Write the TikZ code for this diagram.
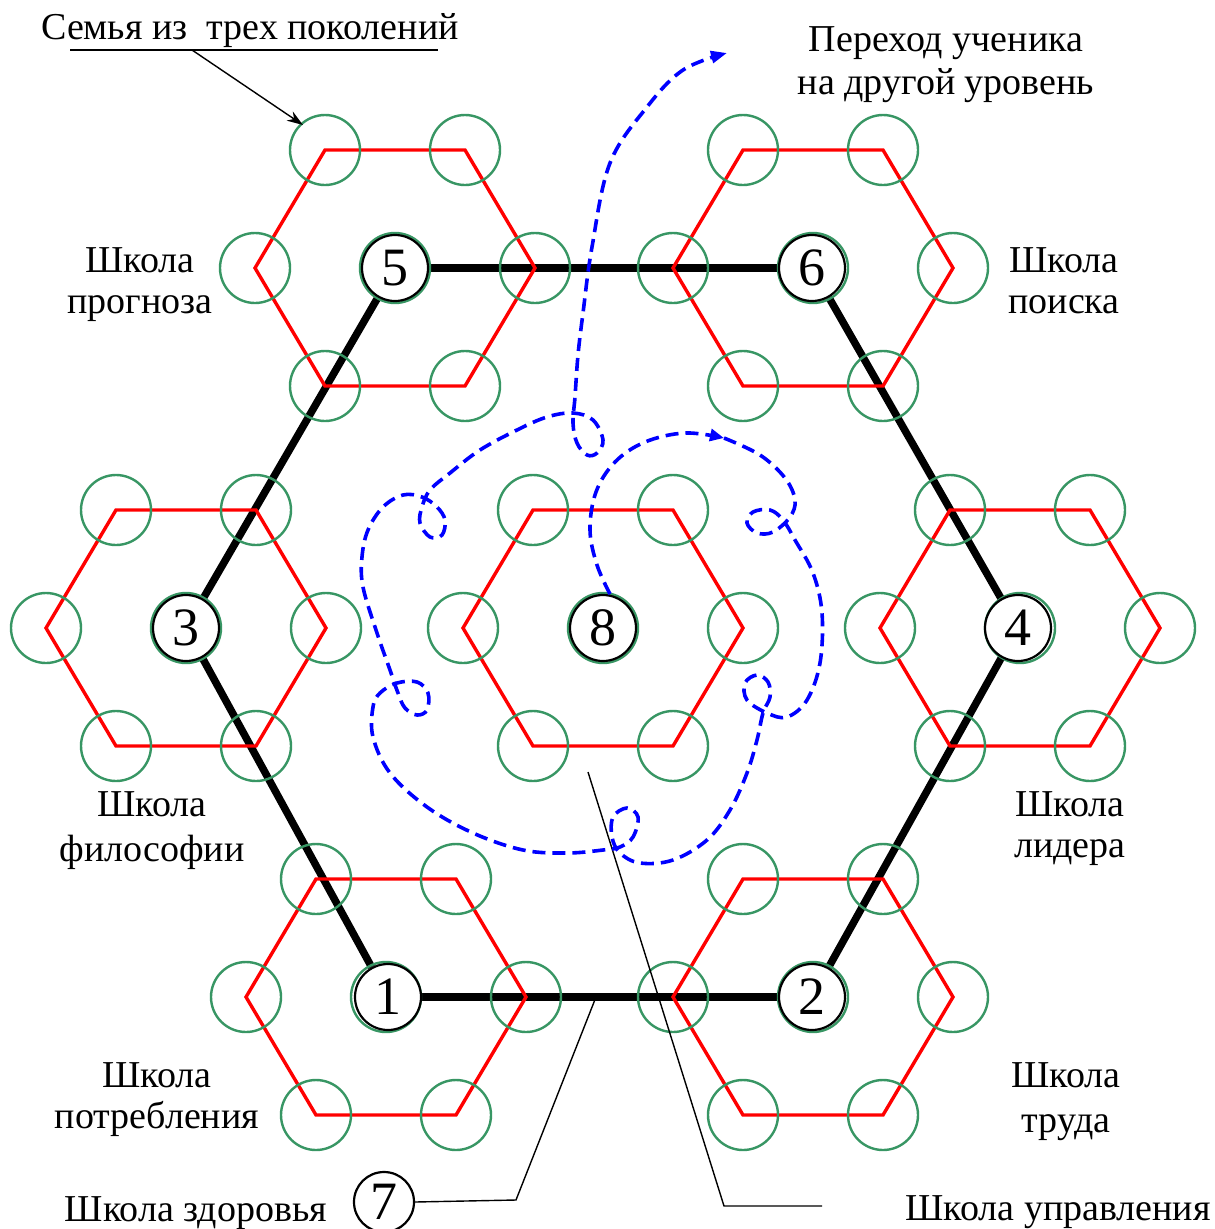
\documentclass[tikz,border=0pt]{standalone}
\usepackage{fontspec}
\setmainfont{Liberation Serif}
\usetikzlibrary{arrows.meta,backgrounds}
\definecolor{famgreen}{RGB}{56,150,100}
\definecolor{pathblue}{RGB}{0,0,255}
% one school: red hexagon with a family circle at each corner and in the middle
\def\schoolcell(#1){%
	\draw[cellline] (#1) ++(-140,0) -- ++(70,-118) -- ++(140,0) -- ++(70,118) -- ++(-70,118) -- ++(-140,0) -- cycle;
	\draw[family] (#1) circle (35pt) ++(-140,0) circle (35pt) ++(70,-118) circle (35pt) ++(140,0) circle (35pt) ++(70,118) circle (35pt) ++(-70,118) circle (35pt) ++(-140,0) circle (35pt);}

\begin{document}
\begin{tikzpicture}[x=1pt, y=-1pt,
	cellline/.style={red, line width=3.4pt},
	family/.style={famgreen, line width=2.4pt},
	ring/.style={black, line width=7.5pt},
	numbox/.style={circle, draw, line width=2.2pt, fill=white, minimum size=66pt, inner sep=0pt, font=\fontsize{54}{54}\selectfont},
	school/.style={align=center, anchor=base, font=\fontsize{38}{41}\selectfont},
	leader/.style={black, line width=1.4pt},
	pupil/.style={pathblue, line width=3.6pt, dash pattern=on 13pt off 7pt}]
	%%%%% START %%%%%
	\useasboundingbox (0,0) rectangle (1215,1229);
	
	\coordinate (h5) at (395,268);
	\coordinate (h6) at (813,268);
	\coordinate (h3) at (186,628);
	\coordinate (h8) at (603,628);
	\coordinate (h4) at (1020,628);
	\coordinate (h1) at (386,997);
	\coordinate (h2) at (813,997);
	
	\node[numbox] (n5) at (395,268) {5};
	\node[numbox] (n6) at (812,268) {6};
	\node[numbox] (n3) at (186,628) {3};
	\node[numbox] (n4) at (1018,628) {4};
	\node[numbox] (n1) at (388,997) {1};
	\node[numbox] (n2) at (812,997) {2};
	\node[numbox] (n8) at (603,628) {8};
	\node[numbox, minimum size=60pt] (n7) at (384,1202) {7};
	
	\begin{pgfonlayer}{background}
	% big black ring of schools
	\draw[ring] (n5) -- (n6);
	\draw[ring] (n6) -- (n4);
	\draw[ring] (n4) -- (n2);
	\draw[ring] (n2) -- (n1);
	\draw[ring] (n1) -- (n3);
	\draw[ring] (n3) -- (n5);
	
	\schoolcell(h5)
	\schoolcell(h6)
	\schoolcell(h3)
	\schoolcell(h8)
	\schoolcell(h4)
	\schoolcell(h1)
	\schoolcell(h2)
	\end{pgfonlayer}
	
	% school names
	\node[school] (sprog) at (140,313) {Школа\\прогноза};
	\node[school] (spoisk) at (1064,313) {Школа\\поиска};
	\node[school] (sfil) at (152,861) {Школа\\[4pt]философии};
	\node[school] (slid) at (1070,857) {Школа\\лидера};
	\node[school] (spotr) at (157,1128) {Школа\\потребления};
	\node[school] (strud) at (1066,1132) {Школа\\[4pt]труда};
	\node[school] (szdor) at (196,1221) {Школа здоровья};
	\node[school] (supr) at (1058,1220) {Школа управления};
	\node[school] (sfam) at (250,39) {Семья из\ \ трех поколений};
	\node[school] (spass) at (946,94) {Переход ученика\\[2pt]на другой уровень};
	
	% pointers
	\coordinate (famL) at (70,50);
	\coordinate (famR) at (438,50);
	\coordinate (famA) at (192,50);
	\draw[leader] (famL) -- (famR);
	\draw[leader, -{Stealth[length=16pt, width=11pt]}] (famA) -- (303,125);
	\coordinate (bend7) at (516,1200);
	\coordinate (tip7) at (596,997);
	\draw[leader] (n7.east) -- (bend7) -- (tip7);
	\coordinate (uprS) at (822,1206);
	\coordinate (uprB) at (724,1206);
	\coordinate (uprT) at (588,772);
	\draw[leader] (uprS) -- (uprB) -- (uprT);
	
	% path of the pupil
	\draw[pupil, -{Triangle[length=14pt, width=12pt]}] plot[smooth, tension=0.6] coordinates {(610,594) (597,565) (590,530) (596,492) (615,462) (645,442) (685,433) (724,438)};
	\draw[pupil, -{Triangle[length=16pt, width=12pt]}] plot[smooth, tension=0.6] coordinates {(724,438) (760,455) (785,478) (795,500) (790,517) (773,532) (757,533) (747,523) (753,512) (770,510) (783,520) (795,540) (813,573) (822,613) (820,663) (807,700) (787,717) (767,713) (747,700) (745,683) (757,675) (768,682) (770,697) (763,713) (757,740) (747,773) (730,810) (707,840) (673,860) (640,863) (620,853) (612,837) (613,817) (627,808) (638,817) (633,837) (620,847) (603,850) (567,853) (523,850) (473,833) (427,807) (390,773) (373,737) (373,707) (380,693) (397,683) (417,682) (428,693) (427,710) (417,715) (405,708) (398,693) (390,670) (377,633) (363,587) (362,557) (368,530) (383,507) (403,495) (422,497) (437,507) (445,520) (442,535) (430,537) (420,523) (422,507) (430,490) (450,473) (480,450) (517,430) (547,417) (573,413) (593,420) (603,440) (597,453) (587,455) (577,443) (573,423) (575,397) (578,355) (583,313) (592,247) (610,163) (647,107) (683,70) (727,53)};
	%%%%% END %%%%%
\end{tikzpicture}
\end{document}
